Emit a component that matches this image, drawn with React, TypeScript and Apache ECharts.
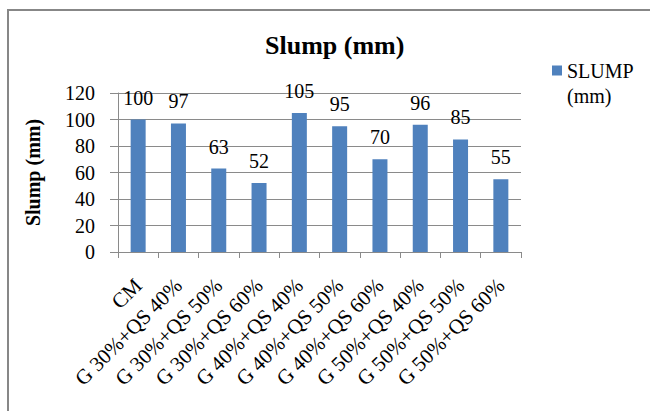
import React, { useEffect, useRef } from "react";
import * as echarts from "echarts";

const categories = [
  "CM",
  "G 30%+QS 40%",
  "G 30%+QS 50%",
  "G 30%+QS 60%",
  "G 40%+QS 40%",
  "G 40%+QS 50%",
  "G 40%+QS 60%",
  "G 50%+QS 40%",
  "G 50%+QS 50%",
  "G 50%+QS 60%",
];
const slumpValues = [100, 97, 63, 52, 105, 95, 70, 96, 85, 55];
const seriesName = "SLUMP (mm)";
const chartTitle = "Slump (mm)";
const yAxisName = "Slump (mm)";
const yMin = 0;
const yMax = 120;
const yInterval = 20;

const FONT = "'Liberation Serif', 'Times New Roman', serif";

export default function App() {
  const ref = useRef<HTMLDivElement>(null);
  useEffect(() => {
    document.body.style.margin = "0";
    const chart = echarts.init(ref.current!, null, { renderer: "svg" });
    chart.setOption({
      animation: false,
      backgroundColor: "#ffffff",
      textStyle: { fontFamily: FONT, color: "#000" },
      title: {
        text: chartTitle,
        left: 265,
        top: 32,
        padding: 0,
        textStyle: { fontFamily: FONT, fontSize: 26, fontWeight: "bold", color: "#000" },
      },
      legend: {
        left: 547,
        top: 28,
        orient: "vertical",
        itemWidth: 10,
        itemHeight: 10,
        icon: "rect",
        formatter: () => " \nSLUMP\n(mm)",
        textStyle: {
          fontFamily: FONT,
          fontSize: 20,
          lineHeight: 25,
          color: "#000",
        },
        data: [seriesName],
      },
      grid: { left: 118, right: 129, top: 93, bottom: 159, containLabel: false },
      xAxis: {
        type: "category",
        data: categories,
        boundaryGap: true,
        axisLine: { lineStyle: { color: "#8a8a8a", width: 1 } },
        axisTick: { show: true, length: 6, alignWithLabel: false, lineStyle: { color: "#8a8a8a" } },
        axisLabel: {
          interval: 0,
          rotate: 45,
          margin: 30,
          fontFamily: FONT,
          fontSize: 21,
          color: "#000",
        },
      },
      yAxis: {
        type: "value",
        min: yMin,
        max: yMax,
        interval: yInterval,
        name: yAxisName,
        nameLocation: "middle",
        nameGap: 75,
        nameTextStyle: { fontFamily: FONT, fontSize: 20, fontWeight: "bold", color: "#000" },
        axisLine: { show: true, lineStyle: { color: "#8a8a8a", width: 1 } },
        axisTick: { show: true, length: 8, lineStyle: { color: "#8a8a8a" } },
        axisLabel: { margin: 23, fontFamily: FONT, fontSize: 20, color: "#000" },
        splitLine: { show: true, lineStyle: { color: "#8a8a8a", width: 1 } },
      },
      series: [
        {
          name: seriesName,
          type: "bar",
          data: slumpValues,
          barWidth: 15,
          itemStyle: { color: "#4F81BD" },
          label: {
            show: true,
            position: "top",
            distance: 12,
            fontFamily: FONT,
            fontSize: 20,
            color: "#000",
          },
        },
      ],
      graphic: [
        {
          type: "rect",
          shape: { x: 8, y: 10, width: 700, height: 500 },
          style: { fill: "none", stroke: "#878787", lineWidth: 2 },
          silent: true,
          z: 100,
        },
      ],
    });
    return () => chart.dispose();
  }, []);
  return <div ref={ref} style={{ width: 650, height: 411 }} />;
}
